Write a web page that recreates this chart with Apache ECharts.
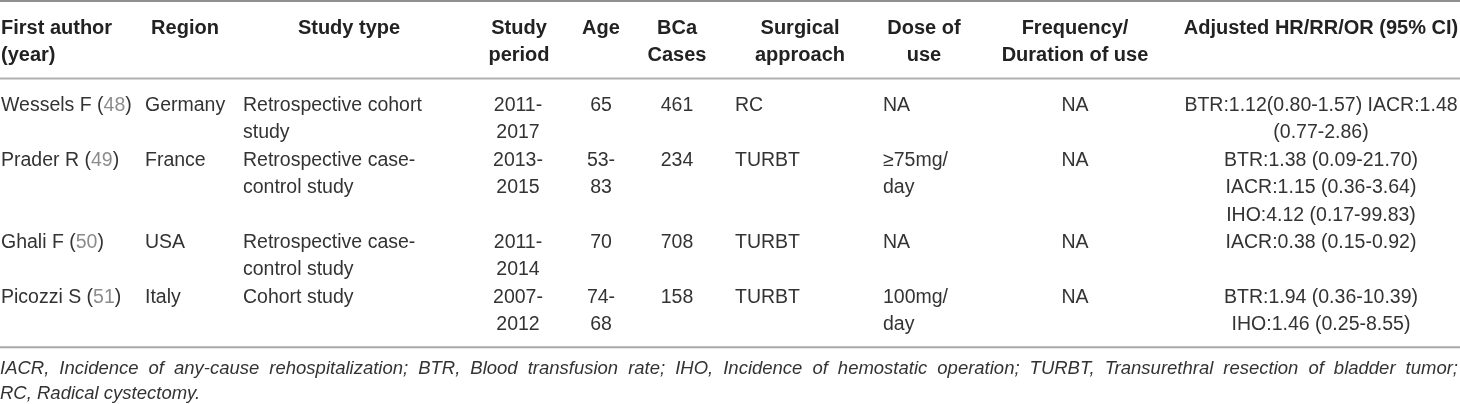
<!DOCTYPE html>
<html>
<head>
<meta charset="utf-8">
<script src="https://cdn.jsdelivr.net/npm/echarts@6/dist/echarts.min.js"></script>
<style>
    html, body { margin: 0; padding: 0; background: #fff; }
    #table { width: 1460px; height: 404px; }
</style>
</head>
<body>
<div id="table"></div>
<script>
    // table content, one array per column
    var headers = ['First author\n(year)', 'Region', 'Study type', 'Study\nperiod', 'Age', 'BCa\nCases',
        'Surgical\napproach', 'Dose of\nuse', 'Frequency/\nDuration of use', 'Adjusted HR/RR/OR (95% CI)'];
    var authors = ['Wessels F', 'Prader R', 'Ghali F', 'Picozzi S'];
    var refs = ['48', '49', '50', '51'];
    var regions = ['Germany', 'France', 'USA', 'Italy'];
    var studyTypes = ['Retrospective cohort\nstudy', 'Retrospective case-\ncontrol study', 'Retrospective case-\ncontrol study', 'Cohort study'];
    var periods = ['2011-\n2017', '2013-\n2015', '2011-\n2014', '2007-\n2012'];
    var ages = ['65', '53-\n83', '70', '74-\n68'];
    var cases = ['461', '234', '708', '158'];
    var approaches = ['RC', 'TURBT', 'TURBT', 'TURBT'];
    var doses = ['NA', '≥75mg/\nday', 'NA', '100mg/\nday'];
    var frequencies = ['NA', 'NA', 'NA', 'NA'];
    var estimates = ['BTR:1.12(0.80-1.57) IACR:1.48\n(0.77-2.86)',
        'BTR:1.38 (0.09-21.70)\nIACR:1.15 (0.36-3.64)\nIHO:4.12 (0.17-99.83)',
        'IACR:0.38 (0.15-0.92)',
        'BTR:1.94 (0.36-10.39)\nIHO:1.46 (0.25-8.55)'];
    var footnote = ['IACR, Incidence of any-cause rehospitalization; BTR, Blood transfusion rate; IHO, Incidence of hemostatic operation; TURBT, Transurethral resection of bladder tumor;',
        'RC, Radical cystectomy.'];

    // layout (pixels)
    var W = 1460, H = 404;
    var FONT = '"Liberation Sans", Arial, Helvetica, sans-serif';
    var cols = [
        { x: 1, align: 'left', hx: 1, halign: 'left' },
        { x: 145, align: 'left', hx: 185, halign: 'center' },
        { x: 243, align: 'left', hx: 349, halign: 'center' },
        { x: 518, align: 'center', hx: 519, halign: 'center' },
        { x: 601, align: 'center', hx: 601, halign: 'center' },
        { x: 677, align: 'center', hx: 677, halign: 'center' },
        { x: 735, align: 'left', hx: 800, halign: 'center' },
        { x: 883, align: 'left', hx: 924, halign: 'center' },
        { x: 1075, align: 'center', hx: 1075, halign: 'center' },
        { x: 1321, align: 'center', hx: 1321, halign: 'center' }
    ];
    var headTop = 15.5, headLH = 26.5, headSize = 20;
    var bodyTop = 92, bodyLH = 27.4, bodySize = 19.5;
    var noteTop = [358.5, 383.5], noteLH = 20, noteSize = 18.5, noteWidth = 1458;
    var rules = [{ y: 1, w: 2, c: '#8f8f8f' }, { y: 78.5, w: 2, c: '#b0b0b0' }, { y: 347.3, w: 2, c: '#a8a8a8' }];

    var cells = [];
    headers.forEach(function (h, i) {
        cells.push({ x: cols[i].hx, y: headTop, text: h, align: cols[i].halign, size: headSize, lh: headLH, weight: 'bold', color: '#222' });
    });

    var columns = [null, regions, studyTypes, periods, ages, cases, approaches, doses, frequencies, estimates];
    var line = 0;
    authors.forEach(function (a, r) {
        var top = bodyTop + line * bodyLH;
        cells.push({ x: cols[0].x, y: top, text: '{t|' + a + ' (}{g|' + refs[r] + '}{t|)}', align: 'left', size: bodySize, lh: bodyLH, color: '#333' });
        var n = 1;
        for (var c = 1; c < columns.length; c++) {
            var txt = columns[c][r];
            n = Math.max(n, txt.split('\n').length);
            cells.push({ x: cols[c].x, y: top, text: txt, align: cols[c].align, size: bodySize, lh: bodyLH, color: '#333' });
        }
        line += n;
    });

    // footnote: first line justified across the full width
    var ctx = document.createElement('canvas').getContext('2d');
    ctx.font = 'italic ' + noteSize + 'px ' + FONT;
    var words = footnote[0].split(' ');
    var widths = words.map(function (w) { return ctx.measureText(w).width; });
    var total = widths.reduce(function (s, v) { return s + v; }, 0);
    var gap = (noteWidth - total) / (words.length - 1);
    var cx = 0;
    words.forEach(function (w, i) {
        cells.push({ x: cx, y: noteTop[0], text: w, align: 'left', size: noteSize, lh: noteLH, italic: true, color: '#333' });
        cx += widths[i] + gap;
    });
    cells.push({ x: 0, y: noteTop[1], text: footnote[1], align: 'left', size: noteSize, lh: noteLH, italic: true, color: '#333' });

    var chart = echarts.init(document.getElementById('table'), null, { renderer: 'canvas' });
    var option = {
        animation: false,
        grid: { left: 0, right: 0, top: 0, bottom: 0 },
        xAxis: { type: 'value', min: 0, max: W, show: false },
        yAxis: { type: 'value', min: 0, max: H, inverse: true, show: false },
        series: [
            {
                type: 'custom',
                silent: true,
                data: rules.map(function (r, i) { return [r.y, i]; }),
                renderItem: function (params, api) {
                    var r = rules[api.value(1)];
                    var p0 = api.coord([0, api.value(0)]);
                    var p1 = api.coord([W, api.value(0)]);
                    return {
                        type: 'line',
                        shape: { x1: p0[0], y1: p0[1], x2: p1[0], y2: p1[1] },
                        style: { stroke: r.c, lineWidth: r.w }
                    };
                }
            },
            {
                type: 'custom',
                silent: true,
                data: cells.map(function (c, i) { return [c.x, c.y, i]; }),
                renderItem: function (params, api) {
                    var c = cells[api.value(2)];
                    var p = api.coord([api.value(0), api.value(1)]);
                    var base = { fill: c.color, fontSize: c.size, fontFamily: FONT, fontWeight: c.weight || 'normal', fontStyle: c.italic ? 'italic' : 'normal', lineHeight: c.lh };
                    return {
                        type: 'text',
                        x: p[0],
                        y: p[1],
                        style: Object.assign({}, base, {
                            text: c.text,
                            align: c.align,
                            verticalAlign: 'top',
                            rich: {
                                t: Object.assign({}, base),
                                g: Object.assign({}, base, { fill: '#8c8c8c' })
                            }
                        })
                    };
                }
            }
        ]
    };
    chart.setOption(option);
    window.onresize = chart.resize;
</script>
</body>
</html>
